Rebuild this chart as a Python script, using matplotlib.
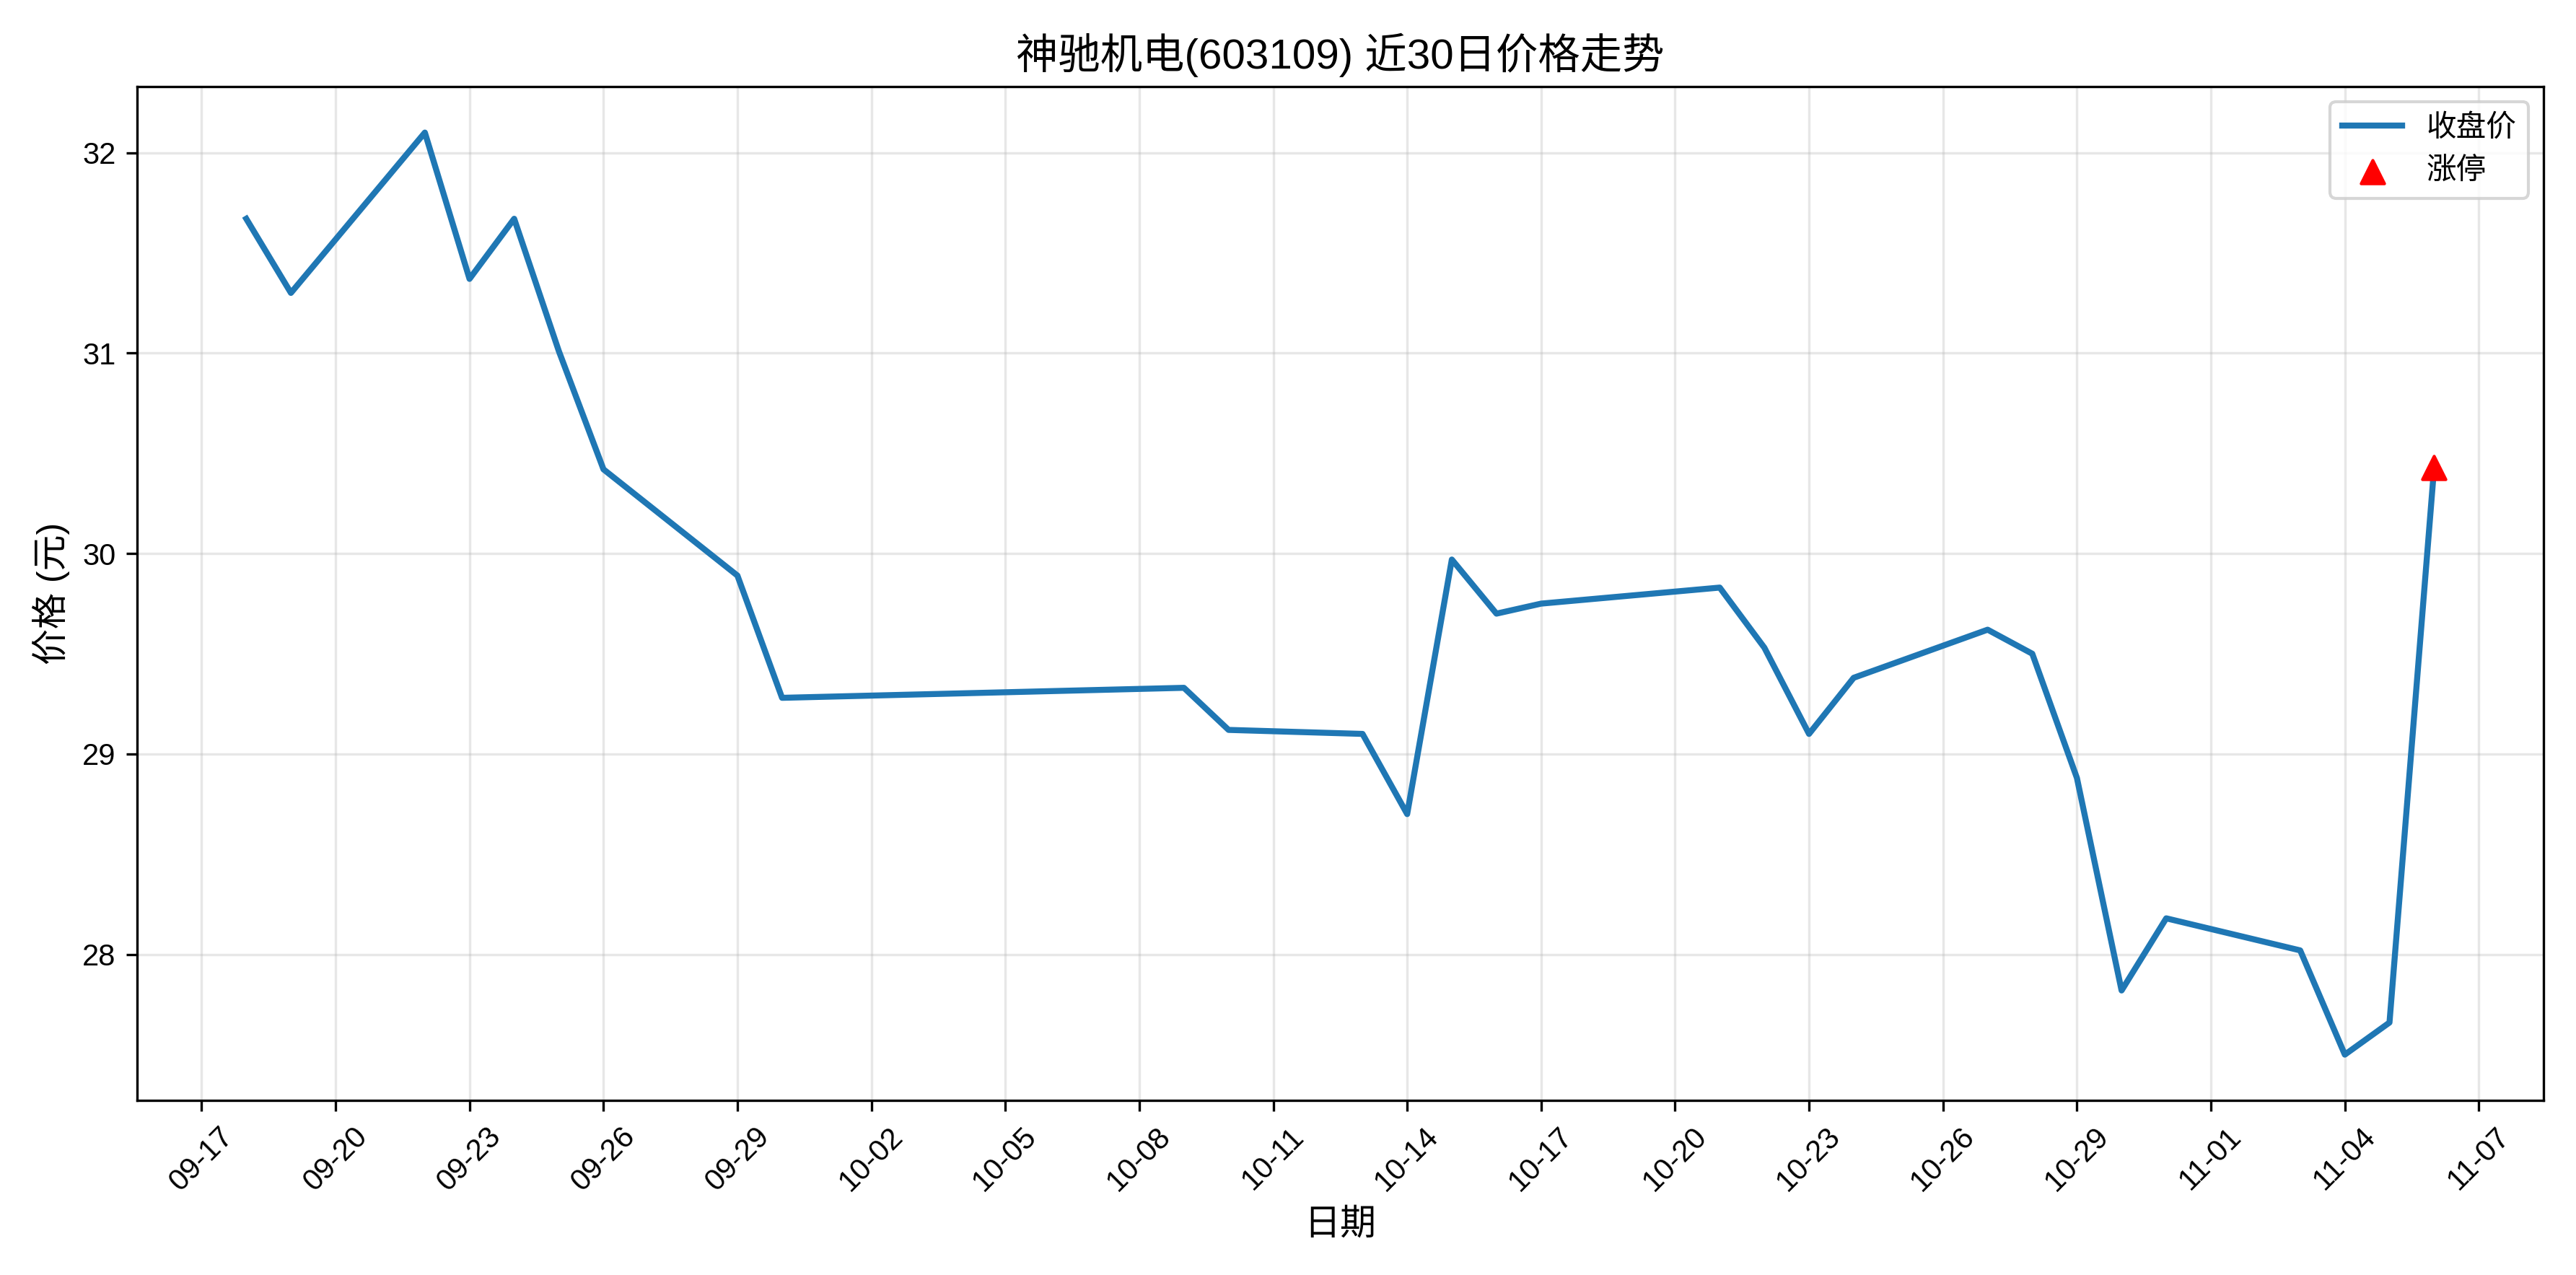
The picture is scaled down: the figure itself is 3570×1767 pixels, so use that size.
import pandas as pd
import numpy as np
import matplotlib
matplotlib.use("Agg")
import matplotlib.pyplot as plt
import matplotlib.dates as mdates

plt.rcParams['font.family'] = ['Liberation Sans', 'Noto Sans CJK SC', 'DejaVu Sans']
plt.rcParams['axes.unicode_minus'] = False

# === 数据 ===
dates = ["2025-09-18", "2025-09-19", "2025-09-22", "2025-09-23", "2025-09-24", "2025-09-25",
         "2025-09-26", "2025-09-29", "2025-09-30", "2025-10-09", "2025-10-10", "2025-10-13",
         "2025-10-14", "2025-10-15", "2025-10-16", "2025-10-17", "2025-10-21", "2025-10-22",
         "2025-10-23", "2025-10-24", "2025-10-27", "2025-10-28", "2025-10-29", "2025-10-30",
         "2025-10-31", "2025-11-03", "2025-11-04", "2025-11-05", "2025-11-06"]
close = [31.67, 31.30, 32.10, 31.37, 31.67, 31.01, 30.42, 29.89, 29.28, 29.33, 29.12, 29.10,
         28.70, 29.97, 29.70, 29.75, 29.83, 29.53, 29.10, 29.38, 29.62, 29.50, 28.88, 27.82,
         28.18, 28.02, 27.50, 27.66, 30.43]
limit_up_dates = ["2025-11-06"]
limit_up_close = [30.43]

dates = pd.to_datetime(dates)
limit_up_dates = pd.to_datetime(limit_up_dates)

# === 绘图 ===
fig, ax = plt.subplots(figsize=(11.9, 5.89))
ax.plot(dates, close, color='#1f77b4', linewidth=2, label='收盘价')
ax.scatter(limit_up_dates, limit_up_close, color='red', marker='^', s=60, zorder=5, label='涨停')

ticks = pd.date_range("2025-09-17", "2025-11-07", freq="3D")
ax.set_xticks(ticks)
ax.xaxis.set_major_formatter(mdates.DateFormatter('%m-%d'))
plt.setp(ax.get_xticklabels(), rotation=45)

ax.set_title("神驰机电(603109) 近30日价格走势", fontsize=14)
ax.set_xlabel("日期", fontsize=12)
ax.set_ylabel("价格 (元)", fontsize=12)
ax.legend(loc='upper right')
ax.grid(True, alpha=0.3)
plt.tight_layout()
plt.savefig("out.png", dpi=300)
